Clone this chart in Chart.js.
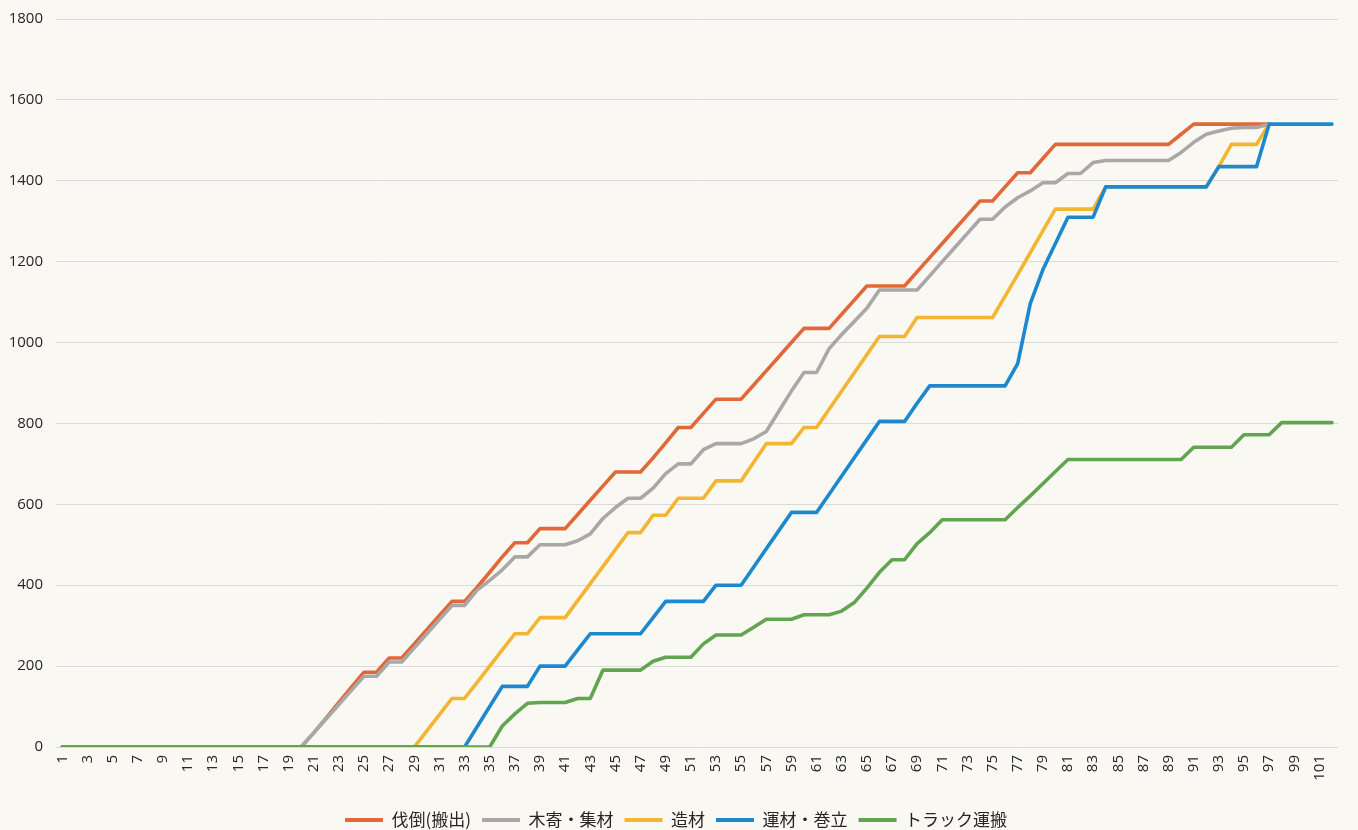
<!DOCTYPE html>
<html lang="ja">
<head>
<meta charset="utf-8">
<title>作業工程別 累積出来高</title>
<script src="https://cdn.jsdelivr.net/npm/chart.js@4.4.1/dist/chart.umd.min.js"></script>
<style>
  html, body { margin: 0; padding: 0; background: #faf8f2; overflow: hidden; }
  #wrap { position: relative; width: 1358px; height: 830px; }
  canvas { display: block; }
</style>
</head>
<body>
<div id="wrap"><canvas id="chart" width="1358" height="830"></canvas></div>
<script>
// Day numbers along the horizontal axis
const days = [
  '1','2','3','4','5','6','7','8','9','10',
  '11','12','13','14','15','16','17','18','19','20',
  '21','22','23','24','25','26','27','28','29','30',
  '31','32','33','34','35','36','37','38','39','40',
  '41','42','43','44','45','46','47','48','49','50',
  '51','52','53','54','55','56','57','58','59','60',
  '61','62','63','64','65','66','67','68','69','70',
  '71','72','73','74','75','76','77','78','79','80',
  '81','82','83','84','85','86','87','88','89','90',
  '91','92','93','94','95','96','97','98','99','100',
  '101','102'
];

// Cumulative volume per work stage
const felling = [
  0,0,0,0,0,0,0,0,0,0,
  0,0,0,0,0,0,0,0,0,0,
  35,72,110,148,185,185,220,220,255,290,
  325,360,360,395,432,470,505,505,540,540,
  540,575,610,645,680,680,680,715,752,790,
  790,825,860,860,860,895,930,965,1000,1035,
  1035,1035,1070,1105,1140,1140,1140,1140,1175,1210,
  1245,1280,1315,1350,1350,1385,1420,1420,1455,1490,
  1490,1490,1490,1490,1490,1490,1490,1490,1490,1515,
  1540,1540,1540,1540,1540,1540,1540,null,null,null,
  null,null
];

const yarding = [
  0,0,0,0,0,0,0,0,0,0,
  0,0,0,0,0,0,0,0,0,0,
  35,70,105,140,175,175,210,210,245,280,
  315,350,350,388,412,438,470,470,500,500,
  500,510,527,565,592,615,615,640,676,700,
  700,735,750,750,750,762,780,830,880,926,
  926,985,1020,1052,1085,1130,1130,1130,1130,1165,
  1200,1235,1270,1305,1305,1335,1358,1375,1395,1395,
  1418,1418,1445,1450,1450,1450,1450,1450,1450,1470,
  1495,1515,1523,1530,1532,1532,1540,null,null,null,
  null,null
];

const bucking = [
  0,0,0,0,0,0,0,0,0,0,
  0,0,0,0,0,0,0,0,0,0,
  0,0,0,0,0,0,0,0,0,40,
  80,120,120,160,200,240,280,280,320,320,
  320,362,404,446,488,530,530,573,573,615,
  615,615,658,658,658,704,750,750,750,790,
  790,835,880,925,970,1015,1015,1015,1062,1062,
  1062,1062,1062,1062,1062,1115,1168,1222,1276,1330,
  1330,1330,1330,1385,1385,1385,1385,1385,1385,1385,
  1385,1385,1435,1490,1490,1490,1540,null,null,null,
  null,null
];

const forwarding = [
  0,0,0,0,0,0,0,0,0,0,
  0,0,0,0,0,0,0,0,0,0,
  0,0,0,0,0,0,0,0,0,0,
  0,0,0,50,100,150,150,150,200,200,
  200,240,280,280,280,280,280,320,360,360,
  360,360,400,400,400,445,490,535,580,580,
  580,625,670,715,760,805,805,805,850,893,
  893,893,893,893,893,893,948,1096,1180,1245,
  1310,1310,1310,1385,1385,1385,1385,1385,1385,1385,
  1385,1385,1435,1435,1435,1435,1540,1540,1540,1540,
  1540,1540
];

const trucking = [
  0,0,0,0,0,0,0,0,0,0,
  0,0,0,0,0,0,0,0,0,0,
  0,0,0,0,0,0,0,0,0,0,
  0,0,0,0,0,52,82,108,110,110,
  110,120,120,190,190,190,190,212,222,222,
  222,255,277,277,277,296,316,316,316,327,
  327,327,336,357,393,432,463,463,503,530,
  562,562,562,562,562,562,592,621,651,681,
  711,711,711,711,711,711,711,711,711,711,
  741,741,741,741,772,772,772,802,802,802,
  802,802
];

const seriesNames = ['伐倒(搬出)', '木寄・集材', '造材', '運材・巻立', 'トラック運搬'];
const seriesColors = ['#e2683a', '#a8a8a8', '#f4b632', '#1c89cf', '#62a551'];
const seriesValues = [felling, yarding, bucking, forwarding, trucking];

const yTicks = { min: 0, max: 1800, step: 200 };

const textColor = '#262626';
const tickFont = { family: "'Open Sans', 'Noto Sans', sans-serif", size: 15 };

const datasets = seriesValues.map((vals, i) => ({
  label: seriesNames[i],
  data: vals,
  borderColor: seriesColors[i],
  backgroundColor: seriesColors[i],
  borderWidth: 3.6,
  borderJoinStyle: 'round',
  borderCapStyle: 'round',
  pointRadius: 0,
  pointHoverRadius: 0,
  tension: 0,
  fill: false,
  spanGaps: false,
  // later stages are painted above earlier ones
  order: seriesValues.length - i
}));

new Chart(document.getElementById('chart'), {
  type: 'line',
  data: { labels: days, datasets },
  options: {
    responsive: false,
    animation: false,
    devicePixelRatio: 1,
    layout: { padding: { top: 19, right: 6, left: 0, bottom: -8.5 } },
    plugins: {
      tooltip: { enabled: false },
      legend: {
        position: 'bottom',
        labels: {
          boxWidth: 38,
          boxHeight: 4,
          padding: 11,
          color: textColor,
          font: { family: "'Noto Sans CJK JP', sans-serif", size: 17 },
          sort: (a, b) => a.datasetIndex - b.datasetIndex,
          generateLabels(chart) {
            const items = Chart.defaults.plugins.legend.labels.generateLabels(chart);
            items.forEach(it => { it.fillStyle = it.strokeStyle; it.lineWidth = 0; });
            return items;
          }
        }
      }
    },
    scales: {
      x: {
        type: 'category',
        offset: true,
        grid: { display: false, drawTicks: false },
        border: { display: false },
        ticks: {
          autoSkip: false,
          minRotation: 90,
          maxRotation: 90,
          padding: 8,
          color: textColor,
          font: tickFont,
          callback(value, index) {
            return index % 2 === 0 ? this.getLabelForValue(value) : '';
          }
        },
        afterFit(scale) { scale.height = 53.5; }
      },
      y: {
        min: yTicks.min,
        max: yTicks.max,
        ticks: {
          stepSize: yTicks.step,
          padding: 9,
          color: textColor,
          font: tickFont,
          callback: (value) => String(value)
        },
        grid: {
          color: '#d9d9d9',
          lineWidth: 1,
          drawTicks: true,
          tickLength: 4,
          tickColor: 'rgba(0,0,0,0)'
        },
        border: { display: false },
        afterFit(scale) { scale.width = 56; }
      }
    }
  }
});
</script>
</body>
</html>
